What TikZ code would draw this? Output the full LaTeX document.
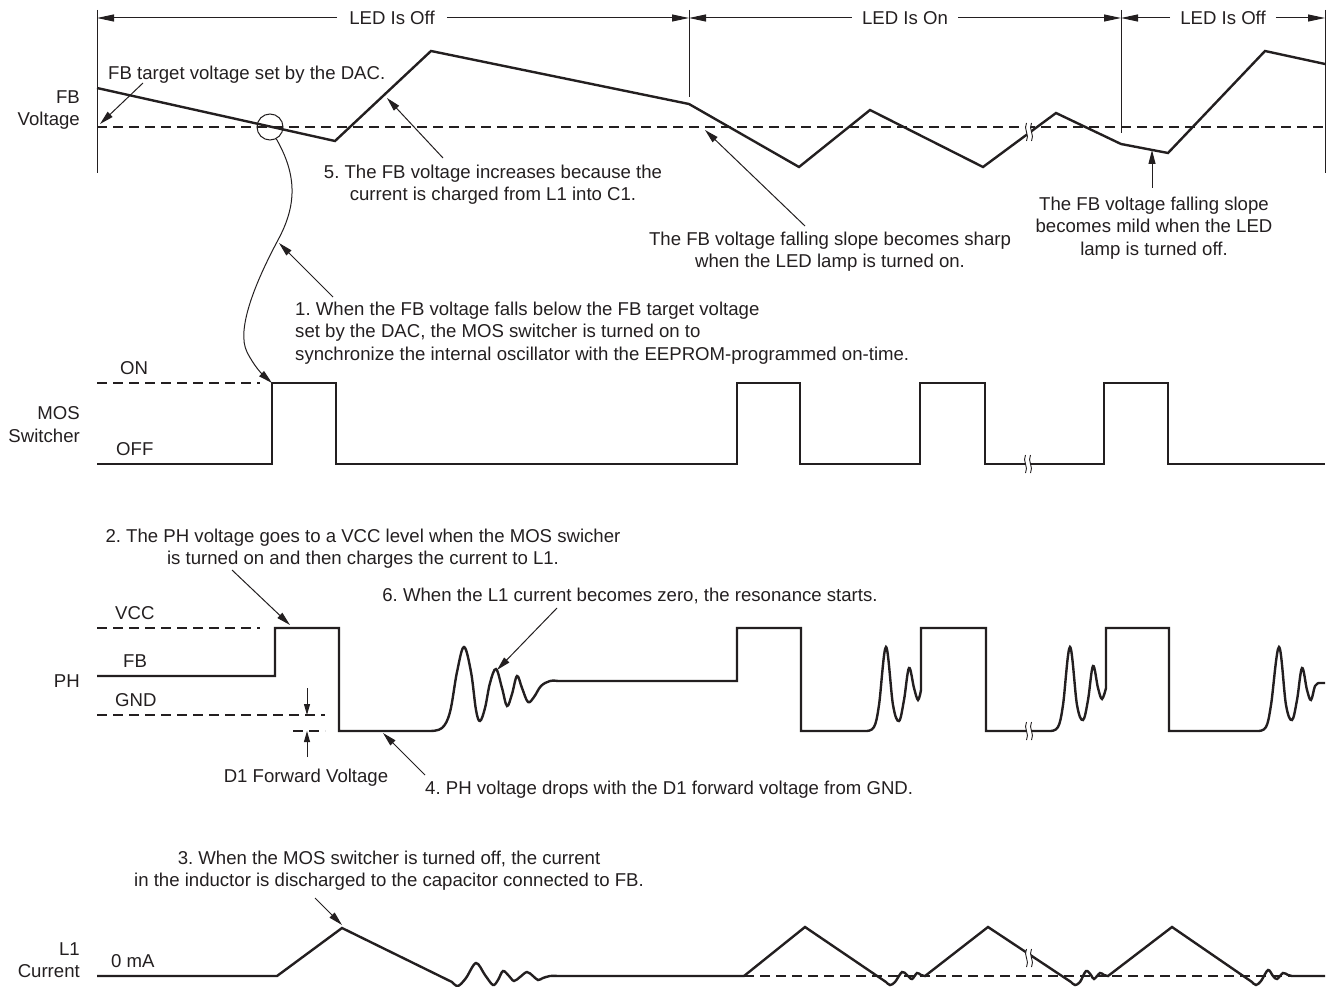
\documentclass[tikz,border=0pt]{standalone}
\usepackage{fontspec}
\setmainfont{Liberation Sans}
\usetikzlibrary{arrows.meta}
\definecolor{ink}{RGB}{35,31,32}
\frenchspacing
\begin{document}
\begin{tikzpicture}[x=1pt,y=-1pt,
  lbl/.style={font=\fontsize{18.6}{22.5}\selectfont, inner sep=0pt, text=ink},
  wave/.style={draw=ink, line width=2.4pt, line join=miter},
  thinl/.style={draw=ink, line width=1pt},
  ref/.style={draw=ink, line width=2pt, dash pattern=on 10pt off 6pt},
  ann/.style={draw=ink, line width=1pt, -{Triangle[length=14pt,width=7pt]}},
  dim/.style={draw=ink, line width=1pt, -{Triangle[length=17pt,width=7pt]}},
  brkmark/.pic={
    \fill[white] (-3.5,-9) .. controls (-7,-3) and (0,3) .. (-3.5,9) -- (1.5,9) .. controls (5,3) and (-2,-3) .. (1.5,-9) -- cycle;
    \draw[ink, line width=0.9pt] (-3.5,-9) .. controls (-7,-3) and (0,3) .. (-3.5,9);
    \draw[ink, line width=0.9pt] (1.5,-9) .. controls (-2,-3) and (5,3) .. (1.5,9);
  }
]
\useasboundingbox (0,0) rectangle (1330,987);

% ---------- top: LED state dimension lines ----------
\coordinate (v1t) at (97,10);   \coordinate (v1b) at (97,173);
\coordinate (v2t) at (689,10);  \coordinate (v2b) at (689,97);
\coordinate (v3t) at (1121,10); \coordinate (v3b) at (1121,133);
\coordinate (v4t) at (1325,10); \coordinate (v4b) at (1325,173);
\draw[thinl] (v1t) -- (v1b);
\draw[thinl] (v2t) -- (v2b);
\draw[thinl] (v3t) -- (v3b);
\draw[thinl] (v4t) -- (v4b);
\coordinate (d1) at (97,18);  \coordinate (d2) at (689,18);
\coordinate (d3) at (1121,18); \coordinate (d4) at (1325,18);
\node[lbl, inner xsep=12pt] (led1) at (392,18) {LED Is Off};
\node[lbl, inner xsep=10pt] (led2) at (905,18) {LED Is On};
\node[lbl, inner xsep=10pt] (led3) at (1223,18) {LED Is Off};
\draw[dim] (led1) -- (d1);
\draw[dim] (led1) -- (d2);
\draw[dim] (led2) -- (d2);
\draw[dim] (led2) -- (d3);
\draw[dim] (led3) -- (d3);
\draw[dim] (led3) -- (d4);

% ---------- FB voltage ----------
\node[lbl, align=right, anchor=north east] (fblab) at (80,90.5) {FB\\Voltage};
\coordinate (fbl) at (97,127); \coordinate (fbr) at (1325,127);
\draw[ref] (fbl) -- (fbr);
\draw[wave] (97,88) -- (335,141) -- (431,51) -- (689,104) -- (799,167) -- (870,110)
  -- (983,167) -- (1056,113) -- (1121,144) -- (1168,153) -- (1265,51) -- (1325,64);
\pic at (1030,132) {brkmark};

\node[lbl, anchor=north west] (tgt) at (108,65.5) {FB target voltage set by the DAC.};
\coordinate (tgtA) at (143,83); \coordinate (tgtB) at (100,124);
\draw[ann] (tgtA) -- (tgtB);

\node[draw=ink, line width=1pt, circle, minimum size=26pt, inner sep=0pt] (cross) at (270,127) {};

\node[lbl, align=center, anchor=north] (n5) at (493,164.5) {5. The FB voltage increases because the\\current is charged from L1 into C1.};
\coordinate (n5a) at (443,158); \coordinate (n5b) at (387,98);
\draw[ann] (n5a) -- (n5b);

\node[lbl, align=center, anchor=north] (sharp) at (830,231.5) {The FB voltage falling slope becomes sharp\\when the LED lamp is turned on.};
\coordinate (sha) at (805,226); \coordinate (shb) at (705,130);
\draw[ann] (sha) -- (shb);

\node[lbl, align=center, anchor=north] (mild) at (1154,196.5) {The FB voltage falling slope\\becomes mild when the LED\\lamp is turned off.};
\coordinate (mia) at (1152,188); \coordinate (mib) at (1152,150);
\draw[ann] (mia) -- (mib);

\node[lbl, align=left, anchor=north west] (n1) at (295,301.5) {1. When the FB voltage falls below the FB target voltage\\set by the DAC, the MOS switcher is turned on to\\synchronize the internal oscillator with the EEPROM-programmed on-time.};

% ---------- MOS switcher ----------
\node[lbl, anchor=north west] (onl) at (120,361.5) {ON};
\node[lbl, anchor=north west] (offl) at (116,442.5) {OFF};
\node[lbl, align=right, anchor=north east] (moslab) at (80,406.5) {MOS\\Switcher};
\coordinate (onA) at (97,383); \coordinate (onB) at (260,383);
\draw[ref] (onA) -- (onB);
\coordinate (mos1) at (272,383);
\draw[wave] (97,464) -- (272,464) -- (mos1) -- (336,383) -- (336,464) -- (737,464)
  -- (737,383) -- (800,383) -- (800,464) -- (920,464) -- (920,383) -- (985,383) -- (985,464)
  -- (1104,464) -- (1104,383) -- (1168,383) -- (1168,464) -- (1325,464);
\pic at (1029,464) {brkmark};

\draw[ann] (cross.-62) .. controls (297,175) and (297,205) .. (278,240)
  .. controls (255,283) and (236,330) .. (247,352) .. controls (254,366) and (262,374) .. (mos1);
\coordinate (n1a) at (333,297); \coordinate (n1b) at (279,243);
\draw[ann] (n1a) -- (n1b);

% ---------- PH ----------
\node[lbl, align=center, anchor=north] (n2) at (363,528.5) {2. The PH voltage goes to a VCC level when the MOS swicher\\is turned on and then charges the current to L1.};
\node[lbl, anchor=north] (n6) at (630,587.5) {6. When the L1 current becomes zero, the resonance starts.};
\node[lbl, anchor=north west] (vccl) at (115,606) {VCC};
\node[lbl, anchor=north west] (fbl2) at (123,654.5) {FB};
\node[lbl, anchor=north west] (gndl) at (115,693.5) {GND};
\node[lbl, anchor=north east] (phlab) at (80,674.5) {PH};
\coordinate (vccA) at (97,628); \coordinate (vccB) at (260,628);
\draw[ref] (vccA) -- (vccB);
\coordinate (gndA) at (97,715); \coordinate (gndB) at (325,715);
\draw[ref] (gndA) -- (gndB);
\coordinate (fwdA) at (293,731); \coordinate (fwdB) at (325,731);
\draw[ref] (fwdA) -- (fwdB);

\draw[wave] (97,676) -- (275,676) -- (275,628) -- (339,628) -- (339,731) -- (430,731)
  -- plot[smooth, tension=0.6] coordinates {(430,731) (442,728) (450,712) (457,672) (464,647) (471,672) (476,710) (480,721) (485,708) (490,683) (496,669) (502,688) (507,706) (512,694) (517,676) (522,688) (528,702) (534,697) (541,686) (550,681) (558,681)}
  -- (737,681) -- (737,628) -- (801,628) -- (801,731) -- (866,731)
  -- plot[smooth, tension=0.6] coordinates {(866,731) (874,727) (879,705) (886,647) (893,705) (899,721) (904,700) (909,668) (914,688) (918,700) (921,690)}
  -- (921,628) -- (986,628) -- (986,731) -- (1050,731)
  -- plot[smooth, tension=0.6] coordinates {(1050,731) (1058,727) (1063,705) (1070,647) (1077,705) (1083,720) (1088,700) (1093,666) (1098,688) (1102,699) (1106,688)}
  -- (1106,628) -- (1169,628) -- (1169,731) -- (1258,731)
  -- plot[smooth, tension=0.6] coordinates {(1258,731) (1266,727) (1271,705) (1279,647) (1286,705) (1292,720) (1297,700) (1302,668) (1307,690) (1311,700) (1315,686) (1319,683)}
  -- (1325,683);
\pic at (1030,731) {brkmark};

\coordinate (n2a) at (232,570); \coordinate (n2b) at (290,625);
\draw[ann] (n2a) -- (n2b);
\coordinate (n6a) at (557,608); \coordinate (n6b) at (497,670);
\draw[ann] (n6a) -- (n6b);

\coordinate (fv1a) at (307,688); \coordinate (fv1b) at (307,715);
\coordinate (fv2a) at (307,757); \coordinate (fv2b) at (307,731);
\draw[draw=ink, line width=1pt, -{Triangle[length=11pt,width=6pt]}] (fv1a) -- (fv1b);
\draw[draw=ink, line width=1pt, -{Triangle[length=11pt,width=6pt]}] (fv2a) -- (fv2b);
\node[lbl, anchor=north] (d1f) at (306,768.5) {D1 Forward Voltage};

\node[lbl, anchor=north west] (n4) at (425,780.5) {4. PH voltage drops with the D1 forward voltage from GND.};
\coordinate (n4a) at (425,775); \coordinate (n4b) at (383,733);
\draw[ann] (n4a) -- (n4b);

% ---------- L1 current ----------
\node[lbl, align=center, anchor=north] (n3) at (389,850.5) {3. When the MOS switcher is turned off, the current\\in the inductor is discharged to the capacitor connected to FB.};
\coordinate (n3a) at (315,898); \coordinate (n3b) at (342,925);
\draw[ann] (n3a) -- (n3b);
\node[lbl, align=right, anchor=north east] (l1lab) at (80,942) {L1\\Current};
\node[lbl, anchor=north west] (zml) at (111,954.5) {0 mA};
\coordinate (zA) at (744,976); \coordinate (zB) at (1325,976);
\draw[ref] (zA) -- (zB);
\draw[wave] (97,976) -- (277,976) -- (342,928) -- (452,982)
  -- plot[smooth, tension=0.55] coordinates {(452,982) (458,986) (466,978) (476,963) (485,975) (493,985) (498,980) (503,971) (509,976) (514,981) (520,977) (527,972) (533,976) (538,980) (543,978) (550,976) (558,976)}
  -- (744,976) -- (805,927) -- (886,982)
  -- plot[smooth, tension=0.55] coordinates {(886,982) (890,985) (895,982) (902,972) (907,975) (912,979) (917,973) (921,975) (925,976)}
  -- (988,927) -- (1071,982)
  -- plot[smooth, tension=0.55] coordinates {(1071,982) (1075,985) (1080,982) (1086,971) (1091,975) (1094,979) (1100,973) (1104,975) (1108,976)}
  -- (1172,927) -- (1252,982)
  -- plot[smooth, tension=0.55] coordinates {(1252,982) (1256,985) (1261,981) (1268,970) (1273,976) (1277,979) (1283,973) (1288,975) (1292,976)}
  -- (1325,976);
\pic at (1030,958) {brkmark};
\end{tikzpicture}
\end{document}
